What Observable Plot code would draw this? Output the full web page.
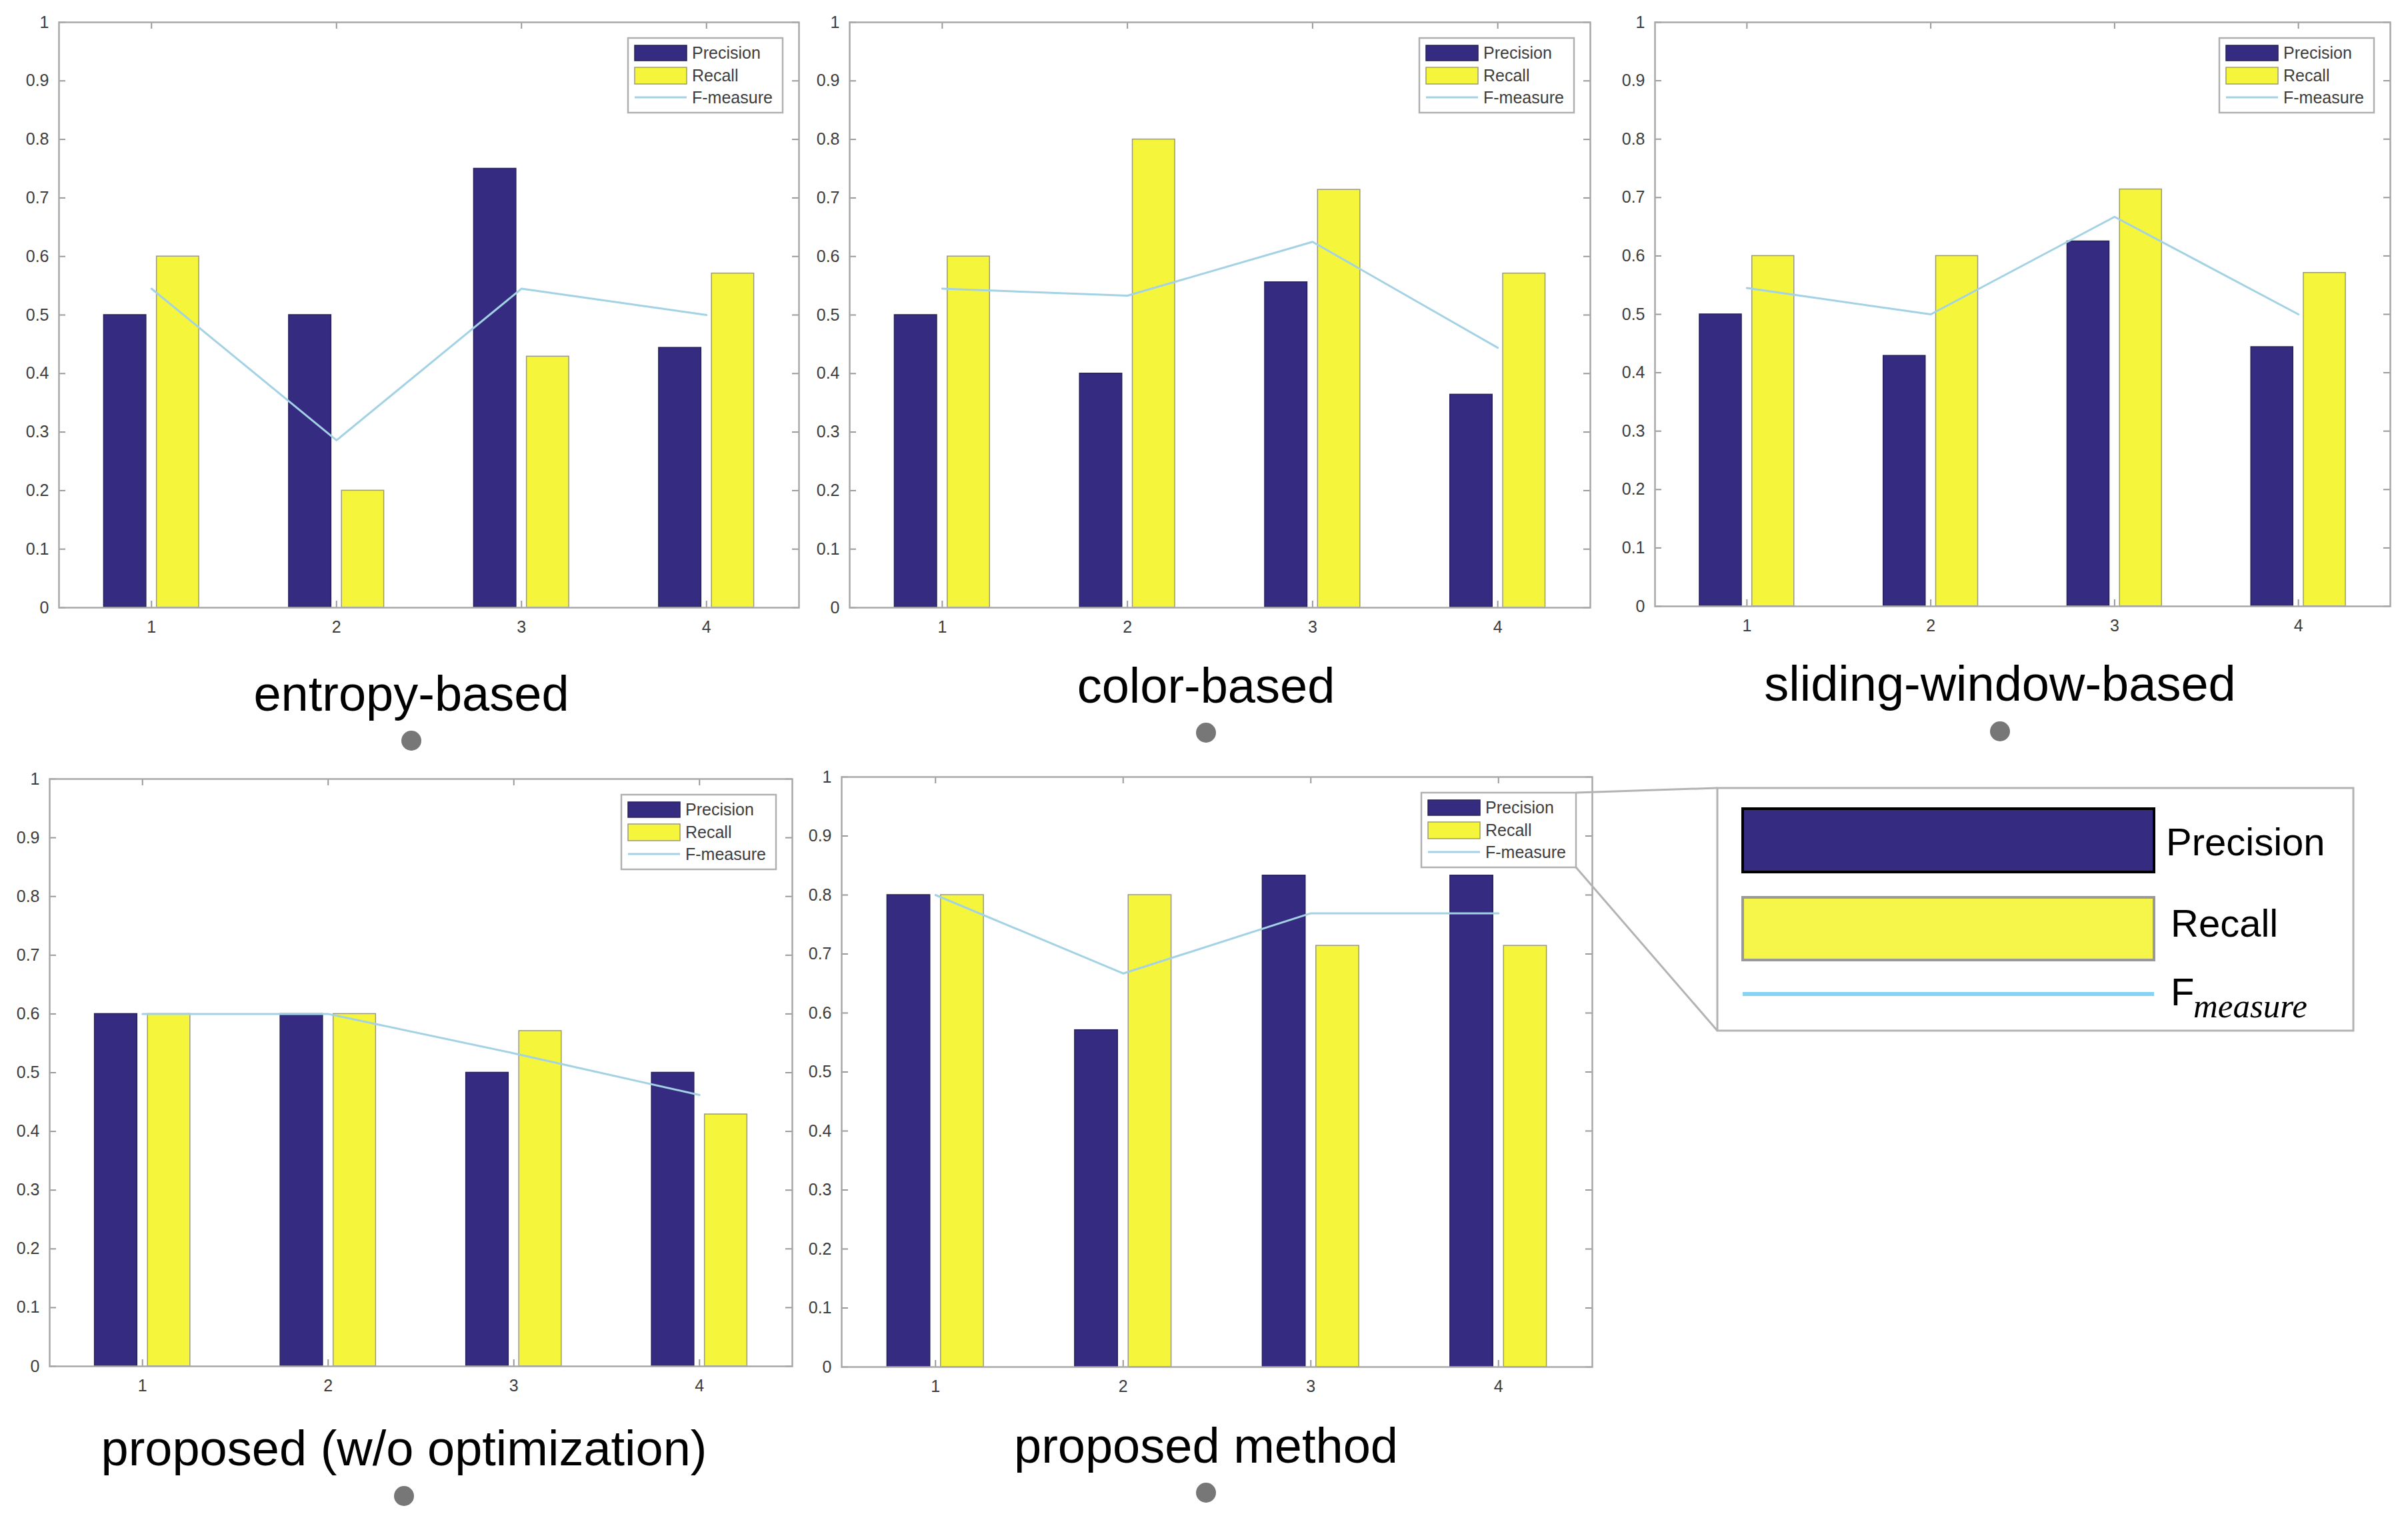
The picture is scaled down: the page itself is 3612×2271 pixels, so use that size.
<!DOCTYPE html>
<html><head><meta charset="utf-8">
<script src="https://cdn.jsdelivr.net/npm/d3@7"></script>
<script src="https://cdn.jsdelivr.net/npm/@observablehq/plot@0.6"></script>
<style>
html,body{margin:0;padding:0;background:#fff;}
#root{position:relative;width:3612px;height:2271px;overflow:hidden;background:#fff;}
.panel{position:absolute;}
.panel svg{overflow:visible;}
#overlay{position:absolute;left:0;top:0;pointer-events:none;}
</style></head><body><div id="root"></div>
<script>
// ---- data ----
const groups = [1, 2, 3, 4];
const seriesNames = ["Precision", "Recall", "F-measure"];
const methodTitles = ["entropy-based", "color-based", "sliding-window-based", "proposed (w/o optimization)", "proposed method"];
const yTicks = [0, 0.1, 0.2, 0.3, 0.4, 0.5, 0.6, 0.7, 0.8, 0.9, 1];
const precisionValues = [
  [0.5, 0.5, 0.75, 0.444],
  [0.5, 0.4, 0.556, 0.364],
  [0.5, 0.429, 0.625, 0.444],
  [0.6, 0.6, 0.5, 0.5],
  [0.8, 0.571, 0.833, 0.833]
];
const recallValues = [
  [0.6, 0.2, 0.429, 0.571],
  [0.6, 0.8, 0.714, 0.571],
  [0.6, 0.6, 0.714, 0.571],
  [0.6, 0.6, 0.571, 0.429],
  [0.8, 0.8, 0.714, 0.714]
];
const fValues = [
  [0.545, 0.286, 0.545, 0.5],
  [0.545, 0.533, 0.625, 0.444],
  [0.545, 0.5, 0.667, 0.5],
  [0.6, 0.6, 0.533, 0.462],
  [0.8, 0.667, 0.769, 0.769]
];

// ---- styles / layout ----
const C_PREC = "#352c82", C_REC = "#f5f53c", C_F = "#a3d2e4";
const FONT = "'Liberation Sans', Arial, Helvetica, sans-serif";
const frames = [
  {l: 88,   t: 33,   r: 1198, b: 911,  tx: 617,  ty: 1066, dy: 1111},
  {l: 1274, t: 33,   r: 2385, b: 911,  tx: 1809, ty: 1054, dy: 1099},
  {l: 2482, t: 33,   r: 3585, b: 909,  tx: 3000, ty: 1051, dy: 1097},
  {l: 74,   t: 1168, r: 1188, b: 2049, tx: 606,  ty: 2198, dy: 2244},
  {l: 1262, t: 1165, r: 2388, b: 2050, tx: 1809, ty: 2194, dy: 2239}
];
const ML = 90, MR = 20, MT = 20, MB = 70;
const BW = 0.2286, OFF = 0.1428; // MATLAB grouped-bar geometry (data units)

const root = document.getElementById("root");

frames.forEach((f, k) => {
  const innerW = f.r - f.l, innerH = f.b - f.t;
  const rows = groups.map((g, i) => ({g, p: precisionValues[k][i], r: recallValues[k][i], f: fValues[k][i]}));
  const chart = Plot.plot({
    width: innerW + ML + MR,
    height: innerH + MT + MB,
    marginLeft: ML, marginRight: MR, marginTop: MT, marginBottom: MB,
    style: {fontFamily: FONT, fontSize: "25px", color: "#3c3c3c", background: "transparent", overflow: "visible"},
    x: {domain: [0.5, 4.5], axis: null},
    y: {domain: [0, 1], axis: null},
    marks: [
      Plot.rect(rows, {x1: d => d.g - OFF - BW / 2, x2: d => d.g - OFF + BW / 2, y1: 0, y2: "p", fill: C_PREC, stroke: "#26215a", strokeWidth: 1.5}),
      Plot.rect(rows, {x1: d => d.g + OFF - BW / 2, x2: d => d.g + OFF + BW / 2, y1: 0, y2: "r", fill: C_REC, stroke: "#9a9a7a", strokeWidth: 1.5}),
      Plot.line(rows, {x: "g", y: "f", stroke: C_F, strokeWidth: 3}),
      // inward tick marks on all four sides (MATLAB box style)
      Plot.tickY(yTicks, {y: d => d, insetRight: innerW - 10, stroke: "#999", strokeWidth: 2}),
      Plot.tickY(yTicks, {y: d => d, insetLeft: innerW - 10, stroke: "#999", strokeWidth: 2}),
      Plot.tickX(groups, {x: d => d, insetTop: innerH - 10, stroke: "#999", strokeWidth: 2}),
      Plot.tickX(groups, {x: d => d, insetBottom: innerH - 10, stroke: "#999", strokeWidth: 2}),
      Plot.frame({stroke: "#a8a8a8", strokeWidth: 2.5}),
      Plot.axisY({ticks: yTicks, tickSize: 0, tickPadding: 15, tickFormat: d => String(+d.toFixed(1)), label: null, fontSize: 25}),
      Plot.axisX({ticks: groups, tickSize: 0, tickPadding: 20, tickFormat: d => String(d), label: null, fontSize: 25})
    ]
  });
  const div = document.createElement("div");
  div.className = "panel";
  div.style.left = (f.l - ML) + "px";
  div.style.top = (f.t - MT) + "px";
  div.appendChild(chart);
  root.appendChild(div);
});

// ---- overlay: titles, dots, legends ----
const NS = "http://www.w3.org/2000/svg";
const ov = document.createElementNS(NS, "svg");
ov.setAttribute("id", "overlay");
ov.setAttribute("width", 3612);
ov.setAttribute("height", 2271);
root.appendChild(ov);
function el(tag, attrs, text) {
  const e = document.createElementNS(NS, tag);
  for (const a in attrs) e.setAttribute(a, attrs[a]);
  if (text != null) e.textContent = text;
  ov.appendChild(e);
  return e;
}

frames.forEach((f, k) => {
  el("text", {x: f.tx, y: f.ty, "text-anchor": "middle", "font-family": FONT, "font-size": 74, fill: "#000"}, methodTitles[k]);
  el("circle", {cx: f.tx, cy: f.dy, r: 15, fill: "#777"});
  // small legend
  const lw = 232, lh = 112;
  const lx = f.r - 24 - lw, ly = f.t + 24;
  f.leg = {lx, ly, lw, lh};
  el("rect", {x: lx, y: ly, width: lw, height: lh, fill: "#fff", stroke: "#b0b0b0", "stroke-width": 2.5});
  el("rect", {x: lx + 10, y: ly + 11, width: 78, height: 23, fill: C_PREC, stroke: "#26215a", "stroke-width": 1.5});
  el("rect", {x: lx + 10, y: ly + 44, width: 78, height: 25, fill: C_REC, stroke: "#9a9a7a", "stroke-width": 1.5});
  el("line", {x1: lx + 10, x2: lx + 88, y1: ly + 89, y2: ly + 89, stroke: C_F, "stroke-width": 3});
  [31, 65, 98].forEach((b, i) => el("text", {x: lx + 96, y: ly + b, "font-family": FONT, "font-size": 25, fill: "#3c3c3c"}, seriesNames[i]));
});

// connectors from panel-5 legend to the enlarged legend
const L5 = frames[4].leg;
const BX = {l: 2576, t: 1182, r: 3530, b: 1546};
el("line", {x1: L5.lx + L5.lw, y1: L5.ly, x2: BX.l, y2: BX.t, stroke: "#b3b3b3", "stroke-width": 3});
el("line", {x1: L5.lx + L5.lw, y1: L5.ly + L5.lh, x2: BX.l, y2: BX.b, stroke: "#b3b3b3", "stroke-width": 3});
// enlarged legend
el("rect", {x: BX.l, y: BX.t, width: BX.r - BX.l, height: BX.b - BX.t, fill: "#fff", stroke: "#b3b3b3", "stroke-width": 3});
el("rect", {x: 2614, y: 1213, width: 617, height: 95, fill: C_PREC, stroke: "#000", "stroke-width": 4});
el("rect", {x: 2614, y: 1346, width: 617, height: 94, fill: "#f5f54a", stroke: "#999", "stroke-width": 4});
el("line", {x1: 2614, x2: 3231, y1: 1491, y2: 1491, stroke: "#86d3f5", "stroke-width": 6});
el("text", {x: 3249, y: 1283, "font-family": FONT, "font-size": 58, fill: "#000"}, "Precision");
el("text", {x: 3256, y: 1405, "font-family": FONT, "font-size": 58, fill: "#000"}, "Recall");
const ft = el("text", {x: 3256, y: 1508, "font-family": FONT, "font-size": 58, fill: "#000"}, "F");
const sub = document.createElementNS(NS, "tspan");
sub.setAttribute("x", 3290);
sub.setAttribute("y", 1526);
sub.setAttribute("font-family", "'Liberation Serif', 'Times New Roman', serif");
sub.setAttribute("font-style", "italic");
sub.setAttribute("font-size", 51);
sub.textContent = "measure";
ft.appendChild(sub);
</script></body></html>
